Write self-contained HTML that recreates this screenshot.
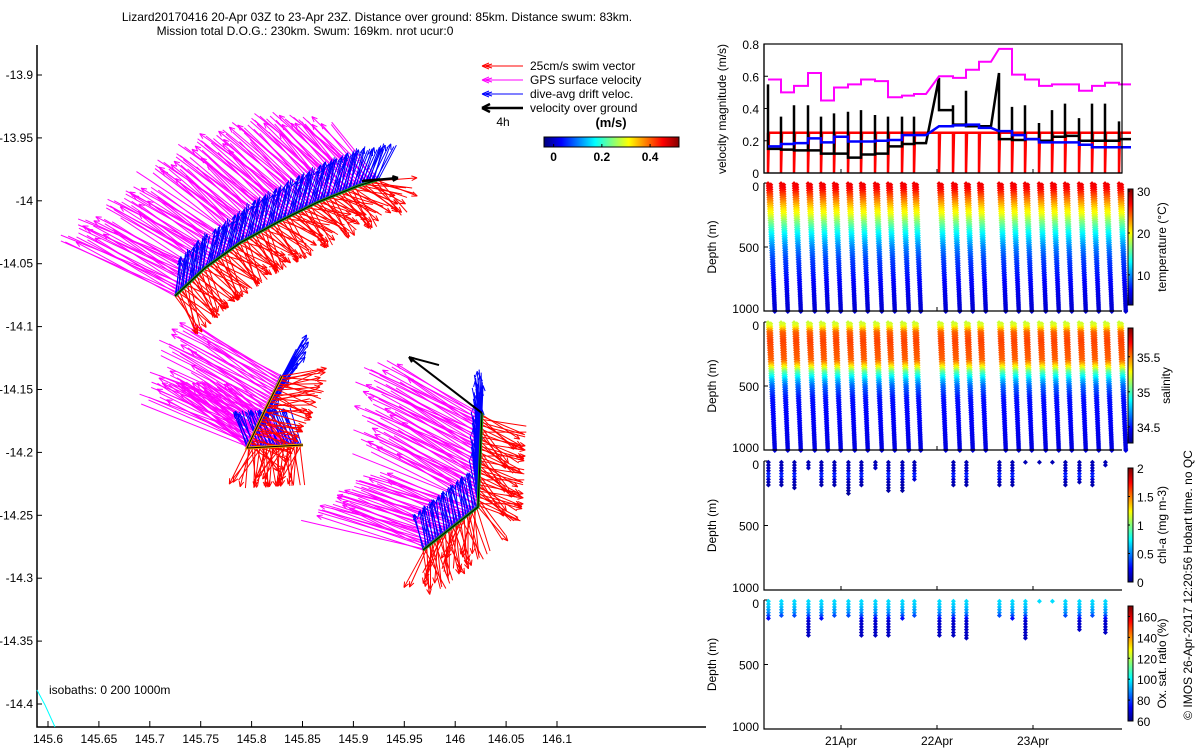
<!DOCTYPE html>
<html><head><meta charset="utf-8"><style>
html,body{margin:0;padding:0;background:#fff}
svg{display:block;font-family:"Liberation Sans",sans-serif}
text{font-size:12px;fill:#000}
</style></head><body>
<svg id="fig" width="1200" height="750" viewBox="0 0 1200 750" xmlns="http://www.w3.org/2000/svg">
<text x="377" y="21" text-anchor="middle">Lizard20170416 20-Apr 03Z to 23-Apr 23Z. Distance over ground: 85km. Distance swum: 83km.</text>
<text x="305" y="35" text-anchor="middle">Mission total D.O.G.: 230km. Swum: 169km. nrot ucur:0</text>
<g id="map"></g>
<g id="legend">
 <line x1="482" y1="66" x2="523" y2="66" stroke="#f00"/><path d="M482 66 l7 -3 M482 66 l7 3 M485 66 l7 -2 M485 66 l7 2" stroke="#f00"/>
 <text x="530" y="70">25cm/s swim vector</text>
 <line x1="482" y1="80" x2="523" y2="80" stroke="#f0f"/><path d="M482 80 l7 -3 M482 80 l7 3 M485 80 l7 -2 M485 80 l7 2" stroke="#f0f"/>
 <text x="530" y="84">GPS surface velocity</text>
 <line x1="482" y1="94" x2="523" y2="94" stroke="#00f"/><path d="M482 94 l7 -3 M482 94 l7 3 M485 94 l7 -2 M485 94 l7 2" stroke="#00f"/>
 <text x="530" y="98">dive-avg drift veloc.</text>
 <line x1="482" y1="108" x2="523" y2="108" stroke="#000" stroke-width="2.5"/><path d="M482 108 l8 -4 M482 108 l8 4" stroke="#000" stroke-width="2.5"/>
 <text x="530" y="112">velocity over ground</text>
 <text x="503" y="126" text-anchor="middle">4h</text>
 <text x="611" y="127" text-anchor="middle" font-weight="bold" style="font-size:13px">(m/s)</text>
</g>
<g id="right"></g>
<text transform="translate(1192,585) rotate(-90)" text-anchor="middle">© IMOS 26-Apr-2017 12:20:56 Hobart time. no QC</text>
</svg>
<script>
// ---------- DATA ----------
const diveT = [5.75,9,12.25,15.75,19,22.25,25.75,29,32.5,35.75,39.25,42.25, 48.5,52,55.25,58.5, 63.5,66.75,70,73.5,76.75,80,83.5,86.75,90,93.5];
const segEnd = [11,15,25];
const gpsSpeed = [0.58,0.50,0.54,0.62,0.45,0.53,0.55,0.58,0.57,0.47,0.48,0.49, 0.60,0.59,0.64,0.69, 0.77,0.61,0.58,0.54,0.55,0.55,0.51,0.54,0.56,0.55];
const driftSpeed = [0.165,0.18,0.185,0.215,0.19,0.225,0.195,0.195,0.2,0.205,0.235,0.235, 0.29,0.295,0.30,0.28, 0.26,0.235,0.21,0.19,0.19,0.19,0.175,0.16,0.16,0.16];
const vogBase = [0.15,0.145,0.14,0.14,0.12,0.12,0.095,0.115,0.12,0.165,0.18,0.185, 0.39,0.30,0.29,0.29, 0.21,0.205,0.21,0.20,0.225,0.23,0.20,0.20,0.20,0.21];
const vogSpike = [0.55,0.35,0.42,0.42,0.35,0.37,0.38,0.39,0.36,0.35,0.35,0.35, 0.59,0.42,0.51,0.30, 0.62,0.41,0.42,0.31,0.39,0.43,0.34,0.43,0.43,0.32];
const swimSpeed = [0.25,0.25,0.25,0.25,0.25,0.25,0.25,0.25,0.25,0.25,0.25,0.25, 0.25,0.25,0.25,0.25, 0.25,0.25,0.25,0.25,0.25,0.25,0.25,0.25,0.25,0.25];
const velTicks = [0,0.2,0.4,0.6,0.8];
const depthTicks = [0,500,1000];
const dayTicks = [24,48,72];
const dayLabels = ["21Apr","22Apr","23Apr"];
const profDepth = [0,50,100,200,250,300,400,500,600,800,1000];
const profTemp = [27.5,27,25,21,19.5,17,13,10,8,6,5];
const salDepth = [0,30,80,150,300,330,360,390,450,500,600,1000];
const salVal = [35.2,35.25,35.55,35.6,35.55,35.42,35.25,35.05,34.8,34.65,34.5,34.42];
const chlDepth = [0,80,110,150,250];
const chlVal = [0.1,0.15,0.4,0.12,0.06];
const oxDepth = [0,50,100,130,160,300];
const oxVal = [95,92,85,75,64,62];
const chlMax = [200,190,210,60,200,200,260,200,60,240,230,150, 0,190,200,0, 190,200,15,15,15,200,180,190,50,0];
const oxMax = [150,140,120,290,150,140,140,290,290,290,150,130, 290,280,300,0, 130,150,300,10,10,140,250,120,270,0];
const tempTicks = [10,20,30];
const salTicks = [34.5,35,35.5];
const chlTicks = [0,0.5,1,1.5,2];
const oxTicks = [60,80,100,120,140,160];
const trackLon = [[145.7248,145.7542,145.7886,145.8259,145.8652,145.9045,145.9261],[145.8299,145.8132,145.7955,145.8505],[145.9684,146.0224,146.0263]];
const trackLat = [[-14.0757,-14.0534,-14.0335,-14.0169,-14.0010,-13.9882,-13.9827],[-14.1393,-14.1663,-14.1965,-14.1941],[-14.2776,-14.2434,-14.1687]];
const gpsU = [[-0.55,-0.5,-0.45,-0.45,-0.4,-0.35],[-0.5,-0.5,-0.42],[-0.55,-0.55]];
const gpsV = [[0.3,0.32,0.38,0.4,0.4,0.35],[0.3,0.25,0.35],[0.2,0.3]];
const driftU = [[0.03,0.05,0.05,0.06,0.06,0.08],[0.15,0.12,-0.08],[-0.04,-0.02]];
const driftV = [[0.2,0.2,0.21,0.22,0.22,0.2],[0.22,0.2,0.2],[0.2,0.25]];
const swimU = [[0.15,0.18,0.17,0.2,0.2,0.22],[0.25,0.22,-0.04],[0.0,0.22]];
const swimV = [[-0.2,-0.18,-0.18,-0.15,-0.15,-0.1],[-0.02,-0.1,-0.22],[-0.25,-0.12]];
const angleJitter = [0,0.09,-0.07,0.14,-0.11,0.04,-0.03,0.12,-0.14,0.06,0.2,-0.2,0.02,-0.17,0.1];
const lonTicks = [145.6,145.65,145.7,145.75,145.8,145.85,145.9,145.95,146,146.05,146.1];
const latTicks = [-13.9,-13.95,-14,-14.05,-14.1,-14.15,-14.2,-14.25,-14.3,-14.35,-14.4];
const speedCbTicks = [0,0.2,0.4];

// ---------- HELPERS ----------
const NS="http://www.w3.org/2000/svg";
function mk(parent,tag,attrs){const e=document.createElementNS(NS,tag);for(const k in attrs)e.setAttribute(k,attrs[k]);parent.appendChild(e);return e;}
function jet(f){f=Math.max(0,Math.min(1,f));const c=x=>Math.round(255*Math.max(0,Math.min(1,x)));
 return `rgb(${c(1.5-Math.abs(4*f-3))},${c(1.5-Math.abs(4*f-2))},${c(1.5-Math.abs(4*f-1))})`;}
function interp(xs,ys,x){if(x<=xs[0])return ys[0];for(let i=1;i<xs.length;i++)if(x<=xs[i]){const f=(x-xs[i-1])/(xs[i]-xs[i-1]);return ys[i-1]+f*(ys[i]-ys[i-1]);}return ys[ys.length-1];}

// ---------- MAP ----------
const map=document.getElementById('map');
const lonX=lon=>48+(lon-145.6)*1018;
const latY=lat=>704-(lat+14.4)*1258;
const S=180;
mk(map,'path',{d:'M37 45 V727 H706',fill:'none',stroke:'#000','stroke-width':1.5});
lonTicks.forEach(v=>{const x=lonX(v);mk(map,'line',{x1:x,y1:727,x2:x,y2:721,stroke:'#000'});
 const t=mk(map,'text',{x:x,y:743,'text-anchor':'middle'});t.textContent=String(v);
 });
latTicks.forEach(v=>{const y=latY(v);mk(map,'line',{x1:37,y1:y,x2:42,y2:y,stroke:'#000'});
 const t=mk(map,'text',{x:33,y:y+4,'text-anchor':'end'});t.textContent=String(v);
 });
const iso=mk(map,'path',{d:'M37 690 L45 705 L55 727',fill:'none',stroke:'#0ff'});

const isoT=mk(map,'text',{x:49,y:694});isoT.textContent='isobaths: 0   200  1000m';

isoT.setAttribute('xml:space','preserve');

function arrow(g,x0,y0,dx,dy,col,w,head){
 const x1=x0+dx,y1=y0+dy;
 mk(g,'line',{x1:x0,y1:y0,x2:x1,y2:y1,stroke:col,'stroke-width':w});
 if(head){const a=Math.atan2(dy,dx),L=6;
  mk(g,'path',{d:`M${x1} ${y1} L${x1-L*Math.cos(a-0.4)} ${y1-L*Math.sin(a-0.4)} M${x1} ${y1} L${x1-L*Math.cos(a+0.4)} ${y1-L*Math.sin(a+0.4)}`,stroke:col,'stroke-width':w,fill:'none'});}
}
function rot(u,v,a){return [u*Math.cos(a)-v*Math.sin(a),u*Math.sin(a)+v*Math.cos(a)];}
const layers={gps:mk(map,'g',{}),drift:mk(map,'g',{}),swim:mk(map,'g',{}),track:mk(map,'g',{})};




let jc=0;
trackLon.forEach((lons,s)=>{
 const lats=trackLat[s];
 for(let l=0;l<lons.length-1;l++){
  const xa=lonX(lons[l]),ya=latY(lats[l]),xb=lonX(lons[l+1]),yb=latY(lats[l+1]);
  const n=Math.max(6,Math.round(Math.hypot(xb-xa,yb-ya)/1.6));
  for(let k=0;k<n;k++){
   const f=k/n,x=xa+f*(xb-xa),y=ya+f*(yb-ya);const j=angleJitter[jc++%angleJitter.length];
   let [u,v]=rot(gpsU[s][l],gpsV[s][l],j*0.6); arrow(layers.gps,x,y,u*S*(1+j),-v*S*(1+j),'#f0f',1,k%4==0);
   [u,v]=rot(driftU[s][l],driftV[s][l],j*0.6); arrow(layers.drift,x,y,u*S,-v*S,'#00f',1,k%3==0);
   [u,v]=rot(swimU[s][l],swimV[s][l],j*2.5); arrow(layers.swim,x,y,u*S,-v*S,'#f00',1,k%2==0);
  }
 }
 const d=lons.map((lo,i)=>(i?'L':'M')+lonX(lo)+' '+latY(lats[i])).join(' ');
 mk(layers.track,'path',{d:d,fill:'none',stroke:s==1?'#e8a000':'#1a9a1a','stroke-width':3});
 mk(layers.track,'path',{d:d,fill:'none',stroke:'#000','stroke-width':1});
});
arrow(layers.track,lonX(145.9084),latY(-13.9843),lonX(145.9438)-lonX(145.9084),latY(-13.9819)-latY(-13.9843),'#000',2.5,true);
arrow(layers.track,lonX(146.0263),latY(-14.1687),lonX(145.9546)-lonX(146.0263),latY(-14.1242)-latY(-14.1687),'#000',2,true);
arrow(layers.track,lonX(145.9546),latY(-14.1242),30,8,'#000',2,false);
(function(){const g=mk(map,'g',{});
 const x0=544,x1=679,vmin=-0.04,vmax=0.52;
 for(let i=0;i<x1-x0;i++)mk(g,'rect',{x:x0+i,y:137,width:1.2,height:10,fill:jet(i/(x1-x0))});
 mk(g,'rect',{x:x0,y:137,width:x1-x0,height:10,fill:'none',stroke:'#000'});
 speedCbTicks.forEach(v=>{const x=x0+(v-vmin)/(vmax-vmin)*(x1-x0);mk(g,'line',{x1:x,y1:147,x2:x,y2:144,stroke:'#000'});
  const t=mk(g,'text',{x:x,y:161,'text-anchor':'middle','font-weight':'bold'});t.textContent=String(v);});
})();

// ---------- RIGHT PANELS ----------
const R=document.getElementById('right');
const PX0=764,PX1=1122;
const tX=h=>841+(h-24)*4;
const panels=[[44,173],[183,311],[322,450],[461,590],[600,729]];
const pnames=['velocity-panel','temperature-panel','salinity-panel','chlorophyll-panel','oxygen-panel'];
panels.forEach((p,i)=>{
 const g=mk(R,'g',{});
 dayTicks.forEach(h=>{mk(g,'line',{x1:tX(h),y1:p[1],x2:tX(h),y2:p[1]-4,stroke:'#000'});});
 if(i==0){velTicks.forEach(v=>{const y=p[1]-v/0.8*(p[1]-p[0]);mk(g,'line',{x1:PX0,y1:y,x2:PX0+4,y2:y,stroke:'#000'});
   const t=mk(g,'text',{x:PX0-5,y:y+5,'text-anchor':'end'});t.textContent=String(v);});
  const yl=mk(g,'text',{transform:`translate(726,109) rotate(-90)`,'text-anchor':'middle'});yl.textContent='velocity magnitude (m/s)';}
 else{depthTicks.forEach(v=>{const y=p[0]+v/1000*(p[1]-p[0]);mk(g,'line',{x1:PX0,y1:y,x2:PX0+4,y2:y,stroke:'#000'});
   const t=mk(g,'text',{x:PX0-5,y:y+(v==0?8:v==1000?2:5),'text-anchor':'end'});t.textContent=String(v);});
  const yl=mk(g,'text',{transform:`translate(716,${(p[0]+p[1])/2}) rotate(-90)`,'text-anchor':'middle'});yl.textContent='Depth (m)';}
});
dayLabels.forEach((s,i)=>{const t=mk(R,'text',{x:tX(dayTicks[i]),y:745,'text-anchor':'middle'});t.textContent=s;
 });

const vY=v=>173-v/0.8*129;
function segEndTime(i){return segEnd.includes(i)?diveT[i]+3:diveT[i+1];}
function stepLine(vals,col,w){let d='';
 diveT.forEach((t,i)=>{d+=(i?'L':'M')+tX(t)+' '+vY(vals[i])+' L'+tX(segEndTime(i))+' '+vY(vals[i])+' ';});
 return mk(R,'path',{d:d,fill:'none',stroke:col,'stroke-width':w});}
let d='';diveT.forEach((t,i)=>{d+=(i?'L':'M')+tX(t)+' '+vY(swimSpeed[i])+' L'+tX(t)+' 173 L'+(tX(t)+1)+' '+vY(swimSpeed[i])+' L'+tX(segEndTime(i))+' '+vY(swimSpeed[i])+' ';});
const sl=mk(R,'path',{d:d,fill:'none',stroke:'#f00','stroke-width':2.5});

d='';diveT.forEach((t,i)=>{d+=(i?'L':'M')+tX(t)+' '+vY(vogSpike[i])+' L'+tX(t)+' '+vY(vogBase[i])+' L'+tX(segEndTime(i))+' '+vY(vogBase[i])+' ';});
const vl=mk(R,'path',{d:d,fill:'none',stroke:'#000','stroke-width':2.5});

const gl=stepLine(gpsSpeed,'#f0f',2);
const dl=stepLine(driftSpeed,'#00f',2.5);

function profilePanel(pi,depthArr,valArr,vmin,vmax,maxArr,step){
 const p=panels[pi];const g=mk(R,'g',{});
 
 const dy=z=>p[0]+z/1000*(p[1]-p[0]);
 diveT.forEach((t,i)=>{
  const zmax=maxArr?maxArr[i]:1000; if(!zmax)return;
  const addDot=(h,z)=>{const v=interp(depthArr,valArr,z);const x=tX(h),y=dy(z);
   mk(g,'path',{d:`M${x} ${y-2.5} L${x+2.5} ${y} L${x} ${y+2.5} L${x-2.5} ${y} Z`,fill:jet((v-vmin)/(vmax-vmin))});};
  if(maxArr){for(let z=10;z<=zmax;z+=step)addDot(t+0.1,z);}
  else{for(let z=5;z<=1000;z+=step){addDot(t+z/1000*1.7,z);addDot(t+0.7+z/1000*1.0,z+step/2);}}
 });
}
profilePanel(1,profDepth,profTemp,2.8,30.5,null,18);
profilePanel(2,salDepth,salVal,34.27,35.91,null,18);
profilePanel(3,chlDepth,chlVal,0,2.08,chlMax,22);
profilePanel(4,oxDepth,oxVal,55,170,oxMax,22);
panels.forEach(p=>{mk(R,'path',{d:`M${PX0} ${p[0]} V${p[1]} H${PX1}`,fill:'none',stroke:'#000','stroke-width':1.2});
 if(p===panels[0])mk(R,'rect',{x:PX0,y:p[0],width:PX1-PX0,height:p[1]-p[0],fill:'none',stroke:'#000','stroke-width':1.2});});
function cbar(name,y0,y1,vmin,vmax,ticks,label,lx){
 const g=mk(R,'g',{});
 for(let y=y0;y<y1;y++)mk(g,'rect',{x:1128,y:y,width:5,height:1.2,fill:jet(1-(y-y0)/(y1-y0))});
 mk(g,'rect',{x:1128,y:y0,width:5,height:y1-y0,fill:'none',stroke:'#000'});
 ticks.forEach(v=>{const y=y1-(v-vmin)/(vmax-vmin)*(y1-y0);mk(g,'line',{x1:1128,y1:y,x2:1130,y2:y,stroke:'#000'});
  const t=mk(g,'text',{x:1137,y:y+5});t.textContent=String(v);});
 const t=mk(g,'text',{transform:`translate(${lx},${(y0+y1)/2}) rotate(-90)`,'text-anchor':'middle'});t.textContent=label;
}
cbar('temperature-colorbar',189,305,2.8,30.5,tempTicks,'temperature (°C)',1166);
cbar('salinity-colorbar',328,443,34.27,35.91,salTicks,'salinity',1170);
cbar('chlorophyll-colorbar',468,582,0,2,chlTicks,'chl-a (mg m-3)',1166);
cbar('oxygen-colorbar',606,721,60,170,oxTicks,'Ox. sat. ratio (%)',1166);
</script>
</body></html>
